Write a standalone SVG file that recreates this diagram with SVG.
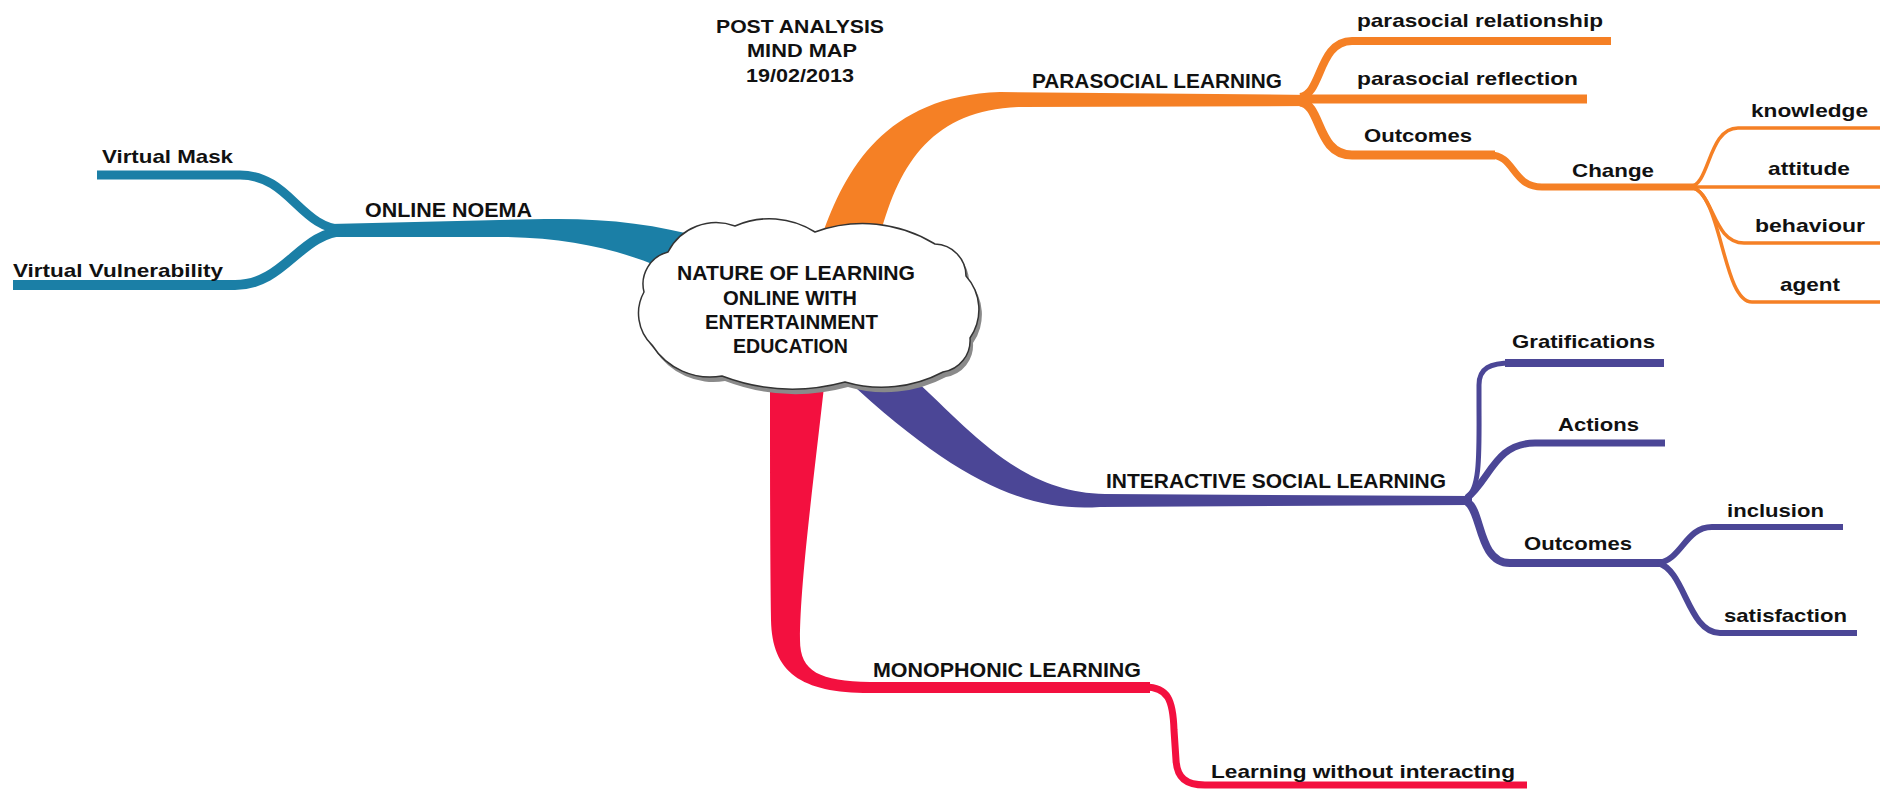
<svg xmlns="http://www.w3.org/2000/svg" width="1883" height="789" viewBox="0 0 1883 789">
<defs>
<style>
text{font-family:"Liberation Sans",Arial,sans-serif;font-weight:bold;fill:#111}
.up{font-size:20px}
.lo{font-size:19px}
.ttl{font-size:19px}
.core{font-size:21px}
.teal{fill:#1B7FA6}
.org{fill:#F58025}
.pur{fill:#4B4696}
.red{fill:#F3103F}
.lt{fill:none;stroke:#1B7FA6;stroke-linejoin:round}
.lo2{fill:none;stroke:#F58025;stroke-linejoin:round}
.lp{fill:none;stroke:#4B4696;stroke-linejoin:round}
.lr{fill:none;stroke:#F3103F;stroke-linejoin:round}
.cloud{fill:#fff;stroke:#333;stroke-width:1.5}
.shadow{fill:#8a8a8a}
</style>
</defs>
<rect width="1883" height="789" fill="#fff"/>

<g id="connectors">
  <!-- ONLINE NOEMA branch -->
  <path class="teal" d="M 330 224 L 545 219 C 605 218 655 224 705 238 L 700 275 L 662 268 C 620 250 570 238 505 237 L 330 237 Z"/>
  <path class="lt" stroke-width="9" d="M 97 175 L 240 175 C 290 175 300 229 345 230"/>
  <path class="lt" stroke-width="10" d="M 13 285 L 235 285 C 285 285 300 232 345 231"/>

  <!-- PARASOCIAL LEARNING branch -->
  <path class="org" d="M 815 258 L 822 236 C 845 170 885 96 1000 92 L 1312 95 L 1312 106 L 1020 107 C 935 110 900 160 880 236 L 876 258 Z"/>
  <path class="lo2" stroke-width="8" d="M 1300 97 C 1322 95 1318 41 1352 41 L 1611 41"/>
  <path class="lo2" stroke-width="9" d="M 1300 99 L 1587 99"/>
  <path class="lo2" stroke-width="9" d="M 1300 102 C 1322 104 1316 155 1352 155 L 1495 155"/>
  <path class="lo2" stroke-width="7" d="M 1490 155 C 1515 155 1512 187 1542 187 L 1696 187"/>
  <path class="lo2" stroke-width="3.5" d="M 1690 187 C 1710 185 1708 128 1738 128 L 1880 128"/>
  <path class="lo2" stroke-width="3.5" d="M 1690 187 L 1880 187"/>
  <path class="lo2" stroke-width="3.5" d="M 1690 187 C 1714 190 1712 243 1744 243 L 1880 243"/>
  <path class="lo2" stroke-width="3.5" d="M 1690 187 C 1722 190 1722 302 1752 302 L 1880 302"/>

  <!-- INTERACTIVE SOCIAL LEARNING branch -->
  <path class="pur" d="M 835 360 L 905 360 L 913 378 C 970 430 1020 493 1105 494 L 1472 496 L 1472 505 L 1100 507 C 1030 512 960 485 845 378 Z"/>
  <path class="lp" stroke-width="5" d="M 1466 498 C 1481 490 1479 450 1479 400 L 1479 385 C 1479 368 1490 363 1512 363"/>
  <path class="lp" stroke-width="8" d="M 1505 363 L 1664 363"/>
  <path class="lp" stroke-width="7" d="M 1467 498 C 1490 480 1495 443 1535 443 L 1665 443"/>
  <path class="lp" stroke-width="8" d="M 1467 502 C 1482 510 1478 563 1510 563 L 1662 563"/>
  <path class="lp" stroke-width="6" d="M 1658 563 C 1682 560 1685 527 1712 527 L 1843 527"/>
  <path class="lp" stroke-width="6" d="M 1658 563 C 1685 570 1688 633 1720 633 L 1857 633"/>

  <!-- MONOPHONIC LEARNING branch -->
  <path class="red" d="M 770 360 L 827 360 C 815 470 800 580 800 640 C 800 672 820 681 870 682 L 1150 682 L 1150 693 L 870 693 C 800 693 772 672 771 620 C 770 560 770 450 770 360 Z"/>
  <path class="lr" stroke-width="7" d="M 1145 687 C 1168 687 1173 700 1174 730 L 1176 760 C 1177 778 1186 785 1205 785 L 1527 785"/>
</g>

<g id="node-center">
  <path class="shadow" transform="translate(3,5)" d="M 668 252 A 54 54 0 0 1 735 226 A 85 85 0 0 1 815 232 A 138 138 0 0 1 935 244 A 32 32 0 0 1 966 276 A 50 50 0 0 1 970 338 A 32 32 0 0 1 943 372 A 131 131 0 0 1 845 382 A 200 200 0 0 1 722 376 A 69 69 0 0 1 652 345 A 44 44 0 0 1 644 292 A 33 33 0 0 1 668 252 Z"/>
  <path class="cloud" d="M 668 252 A 54 54 0 0 1 735 226 A 85 85 0 0 1 815 232 A 138 138 0 0 1 935 244 A 32 32 0 0 1 966 276 A 50 50 0 0 1 970 338 A 32 32 0 0 1 943 372 A 131 131 0 0 1 845 382 A 200 200 0 0 1 722 376 A 69 69 0 0 1 652 345 A 44 44 0 0 1 644 292 A 33 33 0 0 1 668 252 Z"/>
  <text class="core" x="677" y="280" textLength="238" lengthAdjust="spacingAndGlyphs">NATURE OF LEARNING</text>
  <text class="core" x="723" y="305" textLength="134" lengthAdjust="spacingAndGlyphs">ONLINE WITH</text>
  <text class="core" x="705" y="329" textLength="173" lengthAdjust="spacingAndGlyphs">ENTERTAINMENT</text>
  <text class="core" x="733" y="353" textLength="115" lengthAdjust="spacingAndGlyphs">EDUCATION</text>
</g>

<g id="title">
  <text class="ttl" x="800" y="33" text-anchor="middle" textLength="168" lengthAdjust="spacingAndGlyphs">POST ANALYSIS</text>
  <text class="ttl" x="802" y="57" text-anchor="middle" textLength="110" lengthAdjust="spacingAndGlyphs">MIND MAP</text>
  <text class="ttl" x="800" y="82" text-anchor="middle" textLength="108" lengthAdjust="spacingAndGlyphs">19/02/2013</text>
</g>

<g id="node-online-noema"><text class="up" x="365" y="217" textLength="167" lengthAdjust="spacingAndGlyphs">ONLINE NOEMA</text></g>
<g id="node-virtual-mask"><text class="lo" x="102" y="163" textLength="131" lengthAdjust="spacingAndGlyphs">Virtual Mask</text></g>
<g id="node-virtual-vulnerability"><text class="lo" x="13" y="277" textLength="210" lengthAdjust="spacingAndGlyphs">Virtual Vulnerability</text></g>

<g id="node-parasocial-learning"><text class="up" x="1032" y="88" textLength="250" lengthAdjust="spacingAndGlyphs">PARASOCIAL LEARNING</text></g>
<g id="node-parasocial-relationship"><text class="lo" x="1357" y="27" textLength="246" lengthAdjust="spacingAndGlyphs">parasocial relationship</text></g>
<g id="node-parasocial-reflection"><text class="lo" x="1357" y="85" textLength="221" lengthAdjust="spacingAndGlyphs">parasocial reflection</text></g>
<g id="node-outcomes-1"><text class="lo" x="1364" y="142" textLength="108" lengthAdjust="spacingAndGlyphs">Outcomes</text></g>
<g id="node-change"><text class="lo" x="1572" y="177" textLength="82" lengthAdjust="spacingAndGlyphs">Change</text></g>
<g id="node-knowledge"><text class="lo" x="1751" y="117" textLength="117" lengthAdjust="spacingAndGlyphs">knowledge</text></g>
<g id="node-attitude"><text class="lo" x="1768" y="175" textLength="82" lengthAdjust="spacingAndGlyphs">attitude</text></g>
<g id="node-behaviour"><text class="lo" x="1755" y="232" textLength="110" lengthAdjust="spacingAndGlyphs">behaviour</text></g>
<g id="node-agent"><text class="lo" x="1780" y="291" textLength="60" lengthAdjust="spacingAndGlyphs">agent</text></g>

<g id="node-interactive-social-learning"><text class="up" x="1106" y="488" textLength="340" lengthAdjust="spacingAndGlyphs">INTERACTIVE SOCIAL LEARNING</text></g>
<g id="node-gratifications"><text class="lo" x="1512" y="348" textLength="143" lengthAdjust="spacingAndGlyphs">Gratifications</text></g>
<g id="node-actions"><text class="lo" x="1558" y="431" textLength="81" lengthAdjust="spacingAndGlyphs">Actions</text></g>
<g id="node-outcomes-2"><text class="lo" x="1524" y="550" textLength="108" lengthAdjust="spacingAndGlyphs">Outcomes</text></g>
<g id="node-inclusion"><text class="lo" x="1727" y="517" textLength="97" lengthAdjust="spacingAndGlyphs">inclusion</text></g>
<g id="node-satisfaction"><text class="lo" x="1724" y="622" textLength="123" lengthAdjust="spacingAndGlyphs">satisfaction</text></g>

<g id="node-monophonic-learning"><text class="up" x="873" y="677" textLength="268" lengthAdjust="spacingAndGlyphs">MONOPHONIC LEARNING</text></g>
<g id="node-learning-without-interacting"><text class="lo" x="1211" y="778" textLength="304" lengthAdjust="spacingAndGlyphs">Learning without interacting</text></g>
</svg>
